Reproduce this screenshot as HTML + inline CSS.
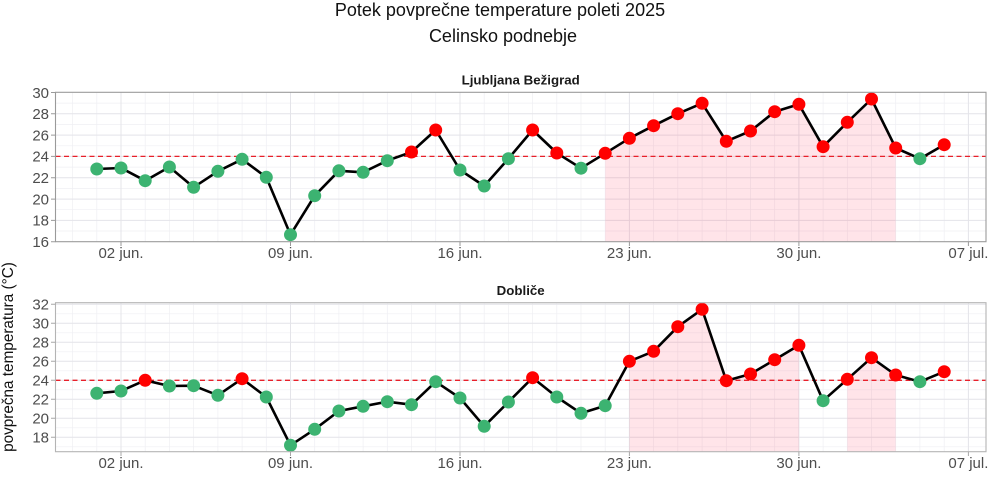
<!DOCTYPE html>
<html><head><meta charset="utf-8"><style>
html,body{margin:0;padding:0;background:#fff;}
svg{display:block;}
text{font-family:"Liberation Sans",Arial,sans-serif;}
</style></head><body>
<svg width="1000" height="483" viewBox="0 0 1000 483" xmlns="http://www.w3.org/2000/svg">
<rect width="1000" height="483" fill="#fff"/>
<!-- titles -->
<text x="500" y="16" font-size="18" text-anchor="middle" fill="#111">Potek povprečne temperature poleti 2025</text>
<text x="503" y="42" font-size="18" text-anchor="middle" fill="#111">Celinsko podnebje</text>
<text x="520.7" y="84.5" font-size="13.3" font-weight="bold" text-anchor="middle" fill="#1a1a1a">Ljubljana Bežigrad</text>
<text x="520.7" y="295" font-size="13.3" font-weight="bold" text-anchor="middle" fill="#1a1a1a">Dobliče</text>
<text transform="translate(13,357) rotate(-90)" font-size="15.3" text-anchor="middle" fill="#111">povprečna temperatura (°C)</text>

<!-- ===== PANEL 1 ===== -->
<g>
<rect x="55.5" y="92.3" width="930.5" height="149.4" fill="#fff"/>
<!-- minor grid -->
<path stroke="#efeff3" stroke-width="0.7" fill="none" d="
M55.5,231.0H986 M55.5,209.7H986 M55.5,188.4H986 M55.5,167.1H986 M55.5,145.8H986 M55.5,124.4H986 M55.5,103.1H986
M72.6,92.3V241.7 M96.8,92.3V241.7 M145.2,92.3V241.7 M169.4,92.3V241.7 M193.6,92.3V241.7 M217.9,92.3V241.7 M242.1,92.3V241.7 M266.3,92.3V241.7
M314.7,92.3V241.7 M338.9,92.3V241.7 M363.1,92.3V241.7 M387.3,92.3V241.7 M411.5,92.3V241.7 M435.7,92.3V241.7
M484.2,92.3V241.7 M508.4,92.3V241.7 M532.6,92.3V241.7 M556.8,92.3V241.7 M581.0,92.3V241.7 M605.2,92.3V241.7
M653.6,92.3V241.7 M677.8,92.3V241.7 M702.1,92.3V241.7 M726.3,92.3V241.7 M750.5,92.3V241.7 M774.7,92.3V241.7
M823.1,92.3V241.7 M847.3,92.3V241.7 M871.5,92.3V241.7 M895.7,92.3V241.7 M919.9,92.3V241.7 M944.2,92.3V241.7"/>
<!-- major grid -->
<path stroke="#e4e4e9" stroke-width="1" fill="none" d="
M55.5,220.4H986 M55.5,199.1H986 M55.5,177.7H986 M55.5,156.4H986 M55.5,135.1H986 M55.5,113.8H986
M121.0,92.3V241.7 M290.5,92.3V241.7 M460.0,92.3V241.7 M629.4,92.3V241.7 M798.9,92.3V241.7 M968.4,92.3V241.7"/>
<!-- shade -->
<polygon fill="#ff4060" fill-opacity="0.14" points="605.2,241.7 605.2,153.3 629.4,138.3 653.6,125.7 677.8,113.7 702.1,103.3 726.3,141.3 750.5,131 774.7,111.7 798.9,104.3 823.1,146.7 847.3,122.3 871.5,99 895.7,148 895.7,241.7"/>
<!-- threshold -->
<line x1="55.5" y1="156.4" x2="986" y2="156.4" stroke="#e8202a" stroke-width="1.3" stroke-dasharray="5,3.5"/>
<!-- line -->
<polyline fill="none" stroke="#000" stroke-width="2.6" stroke-linejoin="round" points="96.8,169 121.0,168 145.2,180.7 169.4,167 193.6,187.3 217.9,171.3 242.1,159.3 266.3,177.3 290.5,234.7 314.7,195.7 338.9,170.8 363.1,172.3 387.3,160.7 411.5,152 435.7,130 460.0,170 484.2,186 508.4,158.7 532.6,130 556.8,153 581.0,168.2 605.2,153.3 629.4,138.3 653.6,125.7 677.8,113.7 702.1,103.3 726.3,141.3 750.5,131 774.7,111.7 798.9,104.3 823.1,146.7 847.3,122.3 871.5,99 895.7,148 919.9,158.7 944.2,144.7"/>
<!-- points -->
<g fill="#3cb371">
<circle cx="96.8" cy="169" r="6.5"/><circle cx="121.0" cy="168" r="6.5"/><circle cx="145.2" cy="180.7" r="6.5"/><circle cx="169.4" cy="167" r="6.5"/>
<circle cx="193.6" cy="187.3" r="6.5"/><circle cx="217.9" cy="171.3" r="6.5"/><circle cx="242.1" cy="159.3" r="6.5"/><circle cx="266.3" cy="177.3" r="6.5"/>
<circle cx="290.5" cy="234.7" r="6.5"/><circle cx="314.7" cy="195.7" r="6.5"/><circle cx="338.9" cy="170.8" r="6.5"/><circle cx="363.1" cy="172.3" r="6.5"/>
<circle cx="387.3" cy="160.7" r="6.5"/><circle cx="460.0" cy="170" r="6.5"/><circle cx="484.2" cy="186" r="6.5"/><circle cx="508.4" cy="158.7" r="6.5"/>
<circle cx="581.0" cy="168.2" r="6.5"/><circle cx="919.9" cy="158.7" r="6.5"/>
</g>
<g fill="#ff0000">
<circle cx="411.5" cy="152" r="6.5"/><circle cx="435.7" cy="130" r="6.5"/><circle cx="532.6" cy="130" r="6.5"/><circle cx="556.8" cy="153" r="6.5"/>
<circle cx="605.2" cy="153.3" r="6.5"/><circle cx="629.4" cy="138.3" r="6.5"/><circle cx="653.6" cy="125.7" r="6.5"/><circle cx="677.8" cy="113.7" r="6.5"/>
<circle cx="702.1" cy="103.3" r="6.5"/><circle cx="726.3" cy="141.3" r="6.5"/><circle cx="750.5" cy="131" r="6.5"/><circle cx="774.7" cy="111.7" r="6.5"/>
<circle cx="798.9" cy="104.3" r="6.5"/><circle cx="823.1" cy="146.7" r="6.5"/><circle cx="847.3" cy="122.3" r="6.5"/><circle cx="871.5" cy="99" r="6.5"/>
<circle cx="895.7" cy="148" r="6.5"/><circle cx="944.2" cy="144.7" r="6.5"/>
</g>
<rect x="55.5" y="92.3" width="930.5" height="149.4" fill="none" stroke="#9a9a9a" stroke-width="1.1"/>
<!-- ticks -->
<path stroke="#9a9a9a" stroke-width="1" d="M51,241.7H55.5 M51,220.4H55.5 M51,199.1H55.5 M51,177.7H55.5 M51,156.4H55.5 M51,135.1H55.5 M51,113.8H55.5 M51,92.5H55.5
M121.0,241.7V246 M290.5,241.7V246 M460.0,241.7V246 M629.4,241.7V246 M798.9,241.7V246 M968.4,241.7V246"/>
<g font-size="15" fill="#4d4d4d" text-anchor="end">
<text x="49" y="247">16</text><text x="49" y="225.7">18</text><text x="49" y="204.4">20</text><text x="49" y="183">22</text>
<text x="49" y="161.7">24</text><text x="49" y="140.4">26</text><text x="49" y="119.1">28</text><text x="49" y="97.8">30</text>
</g>
<g font-size="15" fill="#4d4d4d" text-anchor="middle">
<text x="121.0" y="258">02 jun.</text><text x="290.5" y="258">09 jun.</text><text x="460.0" y="258">16 jun.</text>
<text x="629.4" y="258">23 jun.</text><text x="798.9" y="258">30 jun.</text><text x="968.4" y="258">07 jul.</text>
</g>
</g>

<!-- ===== PANEL 2 ===== -->
<g>
<rect x="55.5" y="302.7" width="930.5" height="149" fill="#fff"/>
<path stroke="#efeff3" stroke-width="0.7" fill="none" d="
M55.5,446.8H986 M55.5,427.8H986 M55.5,408.8H986 M55.5,389.8H986 M55.5,370.8H986 M55.5,351.8H986 M55.5,332.8H986 M55.5,313.8H986
M72.6,302.7V451.7 M96.8,302.7V451.7 M145.2,302.7V451.7 M169.4,302.7V451.7 M193.6,302.7V451.7 M217.9,302.7V451.7 M242.1,302.7V451.7 M266.3,302.7V451.7
M314.7,302.7V451.7 M338.9,302.7V451.7 M363.1,302.7V451.7 M387.3,302.7V451.7 M411.5,302.7V451.7 M435.7,302.7V451.7
M484.2,302.7V451.7 M508.4,302.7V451.7 M532.6,302.7V451.7 M556.8,302.7V451.7 M581.0,302.7V451.7 M605.2,302.7V451.7
M653.6,302.7V451.7 M677.8,302.7V451.7 M702.1,302.7V451.7 M726.3,302.7V451.7 M750.5,302.7V451.7 M774.7,302.7V451.7
M823.1,302.7V451.7 M847.3,302.7V451.7 M871.5,302.7V451.7 M895.7,302.7V451.7 M919.9,302.7V451.7 M944.2,302.7V451.7"/>
<path stroke="#e4e4e9" stroke-width="1" fill="none" d="
M55.5,437.3H986 M55.5,418.3H986 M55.5,399.3H986 M55.5,380.3H986 M55.5,361.3H986 M55.5,342.3H986 M55.5,323.3H986 M55.5,304.3H986
M121.0,302.7V451.7 M290.5,302.7V451.7 M460.0,302.7V451.7 M629.4,302.7V451.7 M798.9,302.7V451.7 M968.4,302.7V451.7"/>
<polygon fill="#ff4060" fill-opacity="0.14" points="629.4,451.7 629.4,361.3 653.6,351.3 677.8,326.7 702.1,309.3 726.3,380.7 750.5,374 774.7,359.7 798.9,345.3 798.9,451.7"/>
<polygon fill="#ff4060" fill-opacity="0.14" points="847.3,451.7 847.3,379.3 871.5,357.7 895.7,375 895.7,451.7"/>
<line x1="55.5" y1="380.3" x2="986" y2="380.3" stroke="#e8202a" stroke-width="1.3" stroke-dasharray="5,3.5"/>
<polyline fill="none" stroke="#000" stroke-width="2.6" stroke-linejoin="round" points="96.8,393.3 121.0,391 145.2,380.3 169.4,386 193.6,385.7 217.9,395.3 242.1,378.7 266.3,397 290.5,445.3 314.7,429.3 338.9,411 363.1,406.3 387.3,401.7 411.5,404.7 435.7,381.7 460.0,398 484.2,426.3 508.4,402 532.6,377.7 556.8,397 581.0,413.3 605.2,405.7 629.4,361.3 653.6,351.3 677.8,326.7 702.1,309.3 726.3,380.7 750.5,374 774.7,359.7 798.9,345.3 823.1,400.7 847.3,379.3 871.5,357.7 895.7,375 919.9,381.7 944.2,371.7"/>
<g fill="#3cb371">
<circle cx="96.8" cy="393.3" r="6.5"/><circle cx="121.0" cy="391" r="6.5"/><circle cx="169.4" cy="386" r="6.5"/><circle cx="193.6" cy="385.7" r="6.5"/>
<circle cx="217.9" cy="395.3" r="6.5"/><circle cx="266.3" cy="397" r="6.5"/><circle cx="290.5" cy="445.3" r="6.5"/><circle cx="314.7" cy="429.3" r="6.5"/>
<circle cx="338.9" cy="411" r="6.5"/><circle cx="363.1" cy="406.3" r="6.5"/><circle cx="387.3" cy="401.7" r="6.5"/><circle cx="411.5" cy="404.7" r="6.5"/>
<circle cx="435.7" cy="381.7" r="6.5"/><circle cx="460.0" cy="398" r="6.5"/><circle cx="484.2" cy="426.3" r="6.5"/><circle cx="508.4" cy="402" r="6.5"/>
<circle cx="556.8" cy="397" r="6.5"/><circle cx="581.0" cy="413.3" r="6.5"/><circle cx="605.2" cy="405.7" r="6.5"/><circle cx="823.1" cy="400.7" r="6.5"/>
<circle cx="919.9" cy="381.7" r="6.5"/>
</g>
<g fill="#ff0000">
<circle cx="145.2" cy="380.3" r="6.5"/><circle cx="242.1" cy="378.7" r="6.5"/><circle cx="532.6" cy="377.7" r="6.5"/>
<circle cx="629.4" cy="361.3" r="6.5"/><circle cx="653.6" cy="351.3" r="6.5"/><circle cx="677.8" cy="326.7" r="6.5"/><circle cx="702.1" cy="309.3" r="6.5"/>
<circle cx="726.3" cy="380.7" r="6.5"/><circle cx="750.5" cy="374" r="6.5"/><circle cx="774.7" cy="359.7" r="6.5"/><circle cx="798.9" cy="345.3" r="6.5"/>
<circle cx="847.3" cy="379.3" r="6.5"/><circle cx="871.5" cy="357.7" r="6.5"/><circle cx="895.7" cy="375" r="6.5"/><circle cx="944.2" cy="371.7" r="6.5"/>
</g>
<rect x="55.5" y="302.7" width="930.5" height="149" fill="none" stroke="#b4b4b4" stroke-width="1.1"/>
<path stroke="#a8a8a8" stroke-width="1" d="M51,437.3H55.5 M51,418.3H55.5 M51,399.3H55.5 M51,380.3H55.5 M51,361.3H55.5 M51,342.3H55.5 M51,323.3H55.5 M51,304.3H55.5
M121.0,451.7V456 M290.5,451.7V456 M460.0,451.7V456 M629.4,451.7V456 M798.9,451.7V456 M968.4,451.7V456"/>
<g font-size="15" fill="#4d4d4d" text-anchor="end">
<text x="49" y="442.6">18</text><text x="49" y="423.6">20</text><text x="49" y="404.6">22</text><text x="49" y="385.6">24</text>
<text x="49" y="366.6">26</text><text x="49" y="347.6">28</text><text x="49" y="328.6">30</text><text x="49" y="309.6">32</text>
</g>
<g font-size="15" fill="#4d4d4d" text-anchor="middle">
<text x="121.0" y="468">02 jun.</text><text x="290.5" y="468">09 jun.</text><text x="460.0" y="468">16 jun.</text>
<text x="629.4" y="468">23 jun.</text><text x="798.9" y="468">30 jun.</text><text x="968.4" y="468">07 jul.</text>
</g>
</g>
</svg>
</body></html>
